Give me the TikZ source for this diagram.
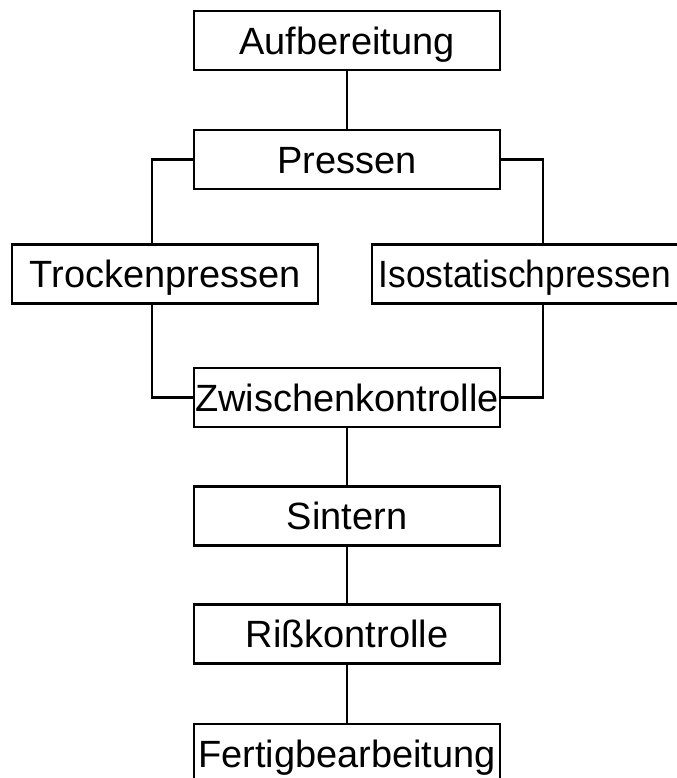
\documentclass[tikz,border=0pt]{standalone}
\usepackage{fontspec}
\setmainfont{Liberation Sans}
\usepackage{tikz}
\usetikzlibrary{calc}

\tikzset{
    stepbox/.style={draw, line width=1.5pt, minimum width=7.65cm, minimum height=1.475cm,
        inner sep=0pt, text height=19.4pt, text depth=0pt,
        font=\fontsize{27}{32}\selectfont},
    link/.style={line width=1.9pt}
}

\begin{document}
\begin{tikzpicture}[x=0.025cm, y=-0.025cm]

    % Fix the frame of the picture
    \useasboundingbox (0,0) rectangle (677,778);

    % Draw the process steps
    \node[stepbox] (aufbereitung) at (347,40.5) {Aufbereitung};
    \node[stepbox] (pressen) at (347,159.5) {Pressen};
    \node[stepbox] (trocken) at (165,274) {Trockenpressen};
    \node[stepbox] (iso) at (525,274) {\scalebox{0.93}[1]{Isostatischpressen}};
    \node[stepbox] (zwischen) at (347,397.5) {Zwischenkontrolle};
    \node[stepbox] (sintern) at (347,516) {Sintern};
    \node[stepbox] (riss) at (347,634) {Rißkontrolle};
    \node[stepbox] (fertig) at (347,753.5) {Fertigbearbeitung};

    % Bends of the two branches
    \coordinate (lbend) at (152,159.5);
    \coordinate (rbend) at (543,159.5);

    % Connect the steps
    \draw[link] (aufbereitung) -- (pressen);
    \draw[link] (pressen.west) -- (lbend) -- (lbend |- trocken.north);
    \draw[link] (pressen.east) -- (rbend) -- (rbend |- iso.north);
    \draw[link] (lbend |- trocken.south) |- (zwischen.west);
    \draw[link] (rbend |- iso.south) |- (zwischen.east);
    \draw[link] (zwischen) -- (sintern);
    \draw[link] (sintern) -- (riss);
    \draw[link] (riss) -- (fertig);

\end{tikzpicture}
\end{document}
